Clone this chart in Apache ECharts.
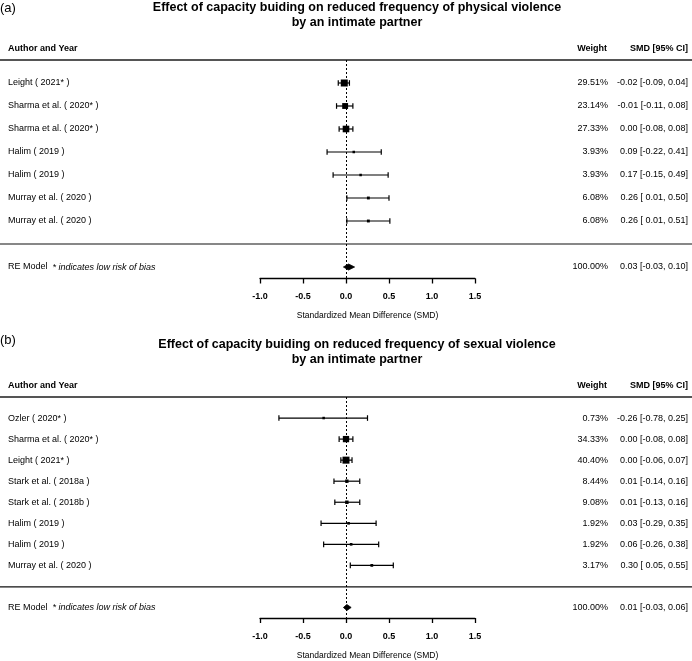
<!DOCTYPE html>
<html lang="en">
<head>
<meta charset="UTF-8">
<title>Forest plots - capacity building and intimate partner violence</title>
<script src="https://cdn.jsdelivr.net/npm/echarts@6/dist/echarts.min.js"></script>
<style>
  html, body { margin: 0; padding: 0; background: #fff; }
  #main { width: 692px; height: 661px; }
</style>
</head>
<body>
<div id="main"></div>
<script>
// ---- panel (a): physical violence ----
var studiesA = ['Leight ( 2021* )', 'Sharma et al. ( 2020* )', 'Sharma et al. ( 2020* )', 'Halim ( 2019 )',
                'Halim ( 2019 )', 'Murray et al. ( 2020 )', 'Murray et al. ( 2020 )'];
var weightA = [29.51, 23.14, 27.33, 3.93, 3.93, 6.08, 6.08];
var smdA = [-0.02, -0.01, 0.00, 0.09, 0.17, 0.26, 0.26];
var loA = [-0.09, -0.11, -0.08, -0.22, -0.15, 0.01, 0.01];
var hiA = [0.04, 0.08, 0.08, 0.41, 0.49, 0.50, 0.51];
var reA = [0.03, -0.03, 0.10];   // estimate, lower, upper

// ---- panel (b): sexual violence ----
var studiesB = ['Ozler ( 2020* )', 'Sharma et al. ( 2020* )', 'Leight ( 2021* )', 'Stark et al. ( 2018a )',
                'Stark et al. ( 2018b )', 'Halim ( 2019 )', 'Halim ( 2019 )', 'Murray et al. ( 2020 )'];
var weightB = [0.73, 34.33, 40.40, 8.44, 9.08, 1.92, 1.92, 3.17];
var smdB = [-0.26, 0.00, 0.00, 0.01, 0.01, 0.03, 0.06, 0.30];
var loB = [-0.78, -0.08, -0.06, -0.14, -0.13, -0.29, -0.26, 0.05];
var hiB = [0.25, 0.08, 0.07, 0.16, 0.16, 0.35, 0.38, 0.55];
var reB = [0.01, -0.03, 0.06];

var titleA = ['Effect of capacity buiding on reduced frequency of physical violence', 'by an intimate partner'];
var titleB = ['Effect of capacity buiding on reduced frequency of sexual violence', 'by an intimate partner'];

var FONT = '"Liberation Sans", Arial, sans-serif';

// layout of each panel (pixels)
var panels = [
  { tag: '(a)', title: titleA, names: studiesA, w: weightA, est: smdA, lo: loA, hi: hiA, re: reA,
    top: 60, rowH: 23, tagY: 8, titleY: 8 },
  { tag: '(b)', title: titleB, names: studiesB, w: weightB, est: smdB, lo: loB, hi: hiB, re: reB,
    top: 397, rowH: 21.1, tagY: 340, titleY: 345 }
];

function f2(v) { return v.toFixed(2); }
function ciText(e, l, h) {
  return f2(e) + ' [' + (l < 0 ? f2(l) : ' ' + f2(l)) + ', ' + f2(h) + ']';
}

var grids = [], xAxes = [], yAxes = [], series = [], graphics = [];

panels.forEach(function (p, pi) {
  var n = p.names.length;
  var reK = n + 2;
  var yMax = n + 2.5;
  grids.push({ left: 260, width: 215, top: p.top, height: p.rowH * yMax });

  xAxes.push({
    type: 'value', gridIndex: pi, min: -1, max: 1.5, interval: 0.5,
    position: 'bottom',
    axisLine: { show: true, onZero: false, lineStyle: { color: '#000', width: 1.3 } },
    axisTick: { show: true, length: 5, lineStyle: { color: '#000', width: 1.3 } },
    splitLine: { show: false },
    axisLabel: { color: '#000', fontFamily: FONT, fontSize: 9, fontWeight: 'bold', margin: 14,
                 formatter: function (v) { return v.toFixed(1); } },
    name: 'Standardized Mean Difference (SMD)', nameLocation: 'middle', nameGap: 33,
    nameTextStyle: { color: '#000', fontFamily: FONT, fontSize: 8.5 }
  });

  // left labels: study names
  yAxes.push({
    type: 'value', gridIndex: pi, inverse: true, min: 0, max: yMax, interval: 1,
    position: 'left',
    axisLine: { show: false }, axisTick: { show: false }, splitLine: { show: false },
    axisLabel: {
      showMaxLabel: false, align: 'left', margin: 252, color: '#000', fontFamily: FONT, fontSize: 9,
      formatter: function (v) {
        if (v >= 1 && v <= n) return p.names[v - 1];
        if (v === reK) return 'RE Model  {it|* indicates low risk of bias}';
        return '';
      },
      rich: { it: { fontStyle: 'italic', fontFamily: FONT, fontSize: 9, color: '#000' } }
    }
  });

  // right labels: weight and SMD [95% CI]
  yAxes.push({
    type: 'value', gridIndex: pi, inverse: true, min: 0, max: yMax, interval: 1,
    position: 'right',
    axisLine: { show: false }, axisTick: { show: false }, splitLine: { show: false },
    axisLabel: {
      showMaxLabel: false, align: 'right', margin: 213, color: '#000', fontFamily: FONT, fontSize: 9,
      formatter: function (v) {
        if (v >= 1 && v <= n) {
          var i = v - 1;
          return '{w|' + f2(p.w[i]) + '%}{c|' + ciText(p.est[i], p.lo[i], p.hi[i]) + '}';
        }
        if (v === reK) return '{w|100.00%}{c|' + ciText(p.re[0], p.re[1], p.re[2]) + '}';
        return '';
      },
      rich: {
        w: { width: 50, align: 'right', fontFamily: FONT, fontSize: 9, color: '#000' },
        c: { width: 80, align: 'right', fontFamily: FONT, fontSize: 9, color: '#000' }
      }
    }
  });

  var wMin = Math.min.apply(null, p.w), wMax = Math.max.apply(null, p.w);
  var rows = p.names.map(function (name, i) {
    return [p.lo[i], p.hi[i], p.est[i], i + 1, p.w[i]];
  });

  series.push({
    type: 'custom', xAxisIndex: pi, yAxisIndex: pi * 2, data: rows,
    encode: { x: [0, 1, 2], y: 3 },
    renderItem: function (params, api) {
      var k = api.value(3);
      var a = api.coord([api.value(0), k]);
      var b = api.coord([api.value(1), k]);
      var c = api.coord([api.value(2), k]);
      var s = 2.5 + 4.5 * (api.value(4) - wMin) / (wMax - wMin);
      var cap = 2.8;
      var st = { stroke: '#000', lineWidth: 1.2 };
      return {
        type: 'group',
        children: [
          { type: 'line', shape: { x1: a[0], y1: a[1], x2: b[0], y2: b[1] }, style: st },
          { type: 'line', shape: { x1: a[0], y1: a[1] - cap, x2: a[0], y2: a[1] + cap }, style: st },
          { type: 'line', shape: { x1: b[0], y1: b[1] - cap, x2: b[0], y2: b[1] + cap }, style: st },
          { type: 'rect', shape: { x: c[0] - s / 2, y: c[1] - s / 2, width: s, height: s },
            style: { fill: '#000' } }
        ]
      };
    },
    markLine: {
      silent: true, symbol: ['none', 'none'], label: { show: false },
      lineStyle: { color: '#000', type: [2, 2], width: 1 },
      data: [{ xAxis: 0 }]
    },
    z: 3
  });

  // summary diamond
  series.push({
    type: 'custom', xAxisIndex: pi, yAxisIndex: pi * 2,
    data: [[p.re[1], p.re[2], p.re[0], reK]],
    encode: { x: [0, 1, 2], y: 3 },
    renderItem: function (params, api) {
      var k = api.value(3);
      var l = api.coord([api.value(0), k]);
      var h = api.coord([api.value(1), k]);
      var e = api.coord([api.value(2), k]);
      var d = 3;
      return {
        type: 'polygon',
        shape: { points: [[l[0], l[1]], [e[0], e[1] - d], [h[0], h[1]], [e[0], e[1] + d]] },
        style: { fill: '#000', stroke: '#000', lineWidth: 0.8 }
      };
    },
    z: 4
  });

  // panel decorations: tag, title, column headers, rules
  var hy = p.top - 11;
  var sepY = p.top + p.rowH * (n + 1);
  graphics.push(
    { type: 'text', x: 0, y: p.tagY,
      style: { text: p.tag, font: '13px ' + FONT, fill: '#000', textAlign: 'left', textVerticalAlign: 'middle' } },
    { type: 'text', x: 357, y: p.titleY, style: { text: p.title[0], font: 'bold 12.5px ' + FONT,
      fill: '#000', textAlign: 'center', textVerticalAlign: 'middle' } },
    { type: 'text', x: 357, y: p.titleY + 14.5, style: { text: p.title[1], font: 'bold 12.5px ' + FONT,
      fill: '#000', textAlign: 'center', textVerticalAlign: 'middle' } },
    { type: 'text', x: 8, y: hy, style: { text: 'Author and Year', font: 'bold 9px ' + FONT,
      fill: '#000', textAlign: 'left', textVerticalAlign: 'middle' } },
    { type: 'text', x: 607, y: hy, style: { text: 'Weight', font: 'bold 9px ' + FONT,
      fill: '#000', textAlign: 'right', textVerticalAlign: 'middle' } },
    { type: 'text', x: 688, y: hy, style: { text: 'SMD [95% CI]', font: 'bold 9px ' + FONT,
      fill: '#000', textAlign: 'right', textVerticalAlign: 'middle' } },
    { type: 'line', shape: { x1: 0, y1: p.top, x2: 692, y2: p.top },
      style: { stroke: '#555', lineWidth: 2 } },
    { type: 'line', shape: { x1: 0, y1: sepY, x2: 692, y2: sepY },
      style: { stroke: '#111', lineWidth: 1.2 } }
  );
});

var chart = echarts.init(document.getElementById('main'));
chart.setOption({
  animation: false,
  backgroundColor: '#fff',
  grid: grids,
  xAxis: xAxes,
  yAxis: yAxes,
  series: series,
  graphic: graphics
});
</script>
</body>
</html>
